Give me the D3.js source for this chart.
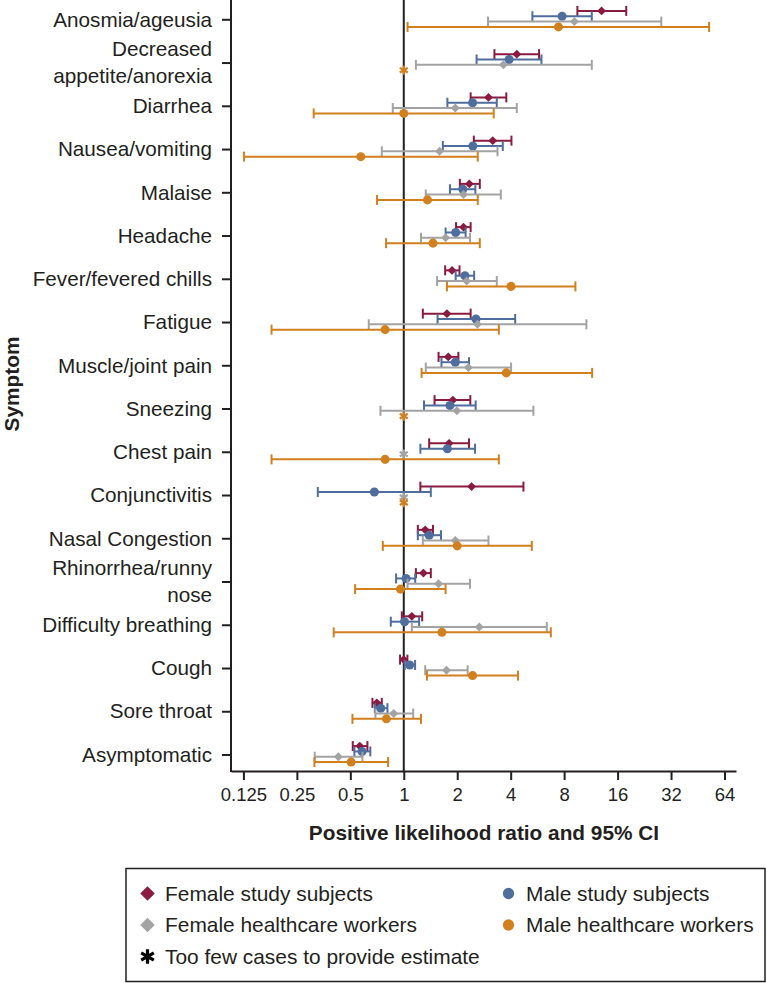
<!DOCTYPE html>
<html>
<head>
<meta charset="utf-8">
<script src="https://cdn.jsdelivr.net/npm/d3@7"></script>
<style>
  html, body { margin: 0; padding: 0; background: #fff; }
  svg { display: block; font-family: "Liberation Sans", Arial, Helvetica, sans-serif; }
</style>
</head>
<body>
<svg id="chart" width="767" height="983"></svg>
<script>
// ---------------- DATA ----------------
const symptoms = ["Anosmia/ageusia", "Decreased appetite/anorexia", "Diarrhea", "Nausea/vomiting", "Malaise",
  "Headache", "Fever/fevered chills", "Fatigue", "Muscle/joint pain", "Sneezing", "Chest pain",
  "Conjunctivitis", "Nasal Congestion", "Rhinorrhea/runny nose", "Difficulty breathing", "Cough",
  "Sore throat", "Asymptomatic"];
const symptomLines = [["Anosmia/ageusia"], ["Decreased", "appetite/anorexia"], ["Diarrhea"], ["Nausea/vomiting"],
  ["Malaise"], ["Headache"], ["Fever/fevered chills"], ["Fatigue"], ["Muscle/joint pain"], ["Sneezing"],
  ["Chest pain"], ["Conjunctivitis"], ["Nasal Congestion"], ["Rhinorrhea/runny", "nose"],
  ["Difficulty breathing"], ["Cough"], ["Sore throat"], ["Asymptomatic"]];

const seriesNames = ["Female study subjects", "Male study subjects", "Female healthcare workers", "Male healthcare workers"];

// Female study subjects
const fsEst = [13.0, 4.33, 3.0, 3.17, 2.34, 2.17, 1.87, 1.75, 1.78, 1.89, 1.80, 2.41, 1.32, 1.29, 1.11, 1.0, 0.705, 0.565];
const fsLo  = [9.5, 3.24, 2.38, 2.48, 2.07, 1.97, 1.71, 1.28, 1.57, 1.49, 1.39, 1.24, 1.2, 1.17, 0.975, 0.953, 0.666, 0.516];
const fsHi  = [17.9, 5.78, 3.78, 4.04, 2.68, 2.38, 2.06, 2.38, 2.03, 2.37, 2.33, 4.72, 1.46, 1.42, 1.27, 1.048, 0.752, 0.624];
// Male study subjects
const msEst = [7.79, 3.92, 2.44, 2.45, 2.15, 1.96, 2.21, 2.55, 1.95, 1.82, 1.76, 0.683, 1.39, 1.03, 1.01, 1.08, 0.742, 0.582];
const msLo  = [5.3, 2.57, 1.76, 1.66, 1.82, 1.72, 1.96, 1.55, 1.63, 1.3, 1.24, 0.328, 1.2, 0.905, 0.845, 1.013, 0.687, 0.527];
const msHi  = [11.45, 5.96, 3.34, 3.61, 2.53, 2.23, 2.49, 4.24, 2.33, 2.54, 2.52, 1.42, 1.62, 1.16, 1.22, 1.158, 0.809, 0.648];
// Female healthcare workers (null = too few cases)
const fhEst = [9.14, 3.64, 1.95, 1.59, 2.17, 1.72, 2.26, 2.6, 2.31, 1.99, null, null, 1.95, 1.57, 2.66, 1.74, 0.878, 0.428];
const fhLo  = [2.98, 1.17, 0.867, 0.752, 1.33, 1.25, 1.54, 0.635, 1.33, 0.739, null, null, 1.28, 1.05, 1.11, 1.32, 0.692, 0.315];
const fhHi  = [28.2, 11.45, 4.33, 3.37, 3.52, 2.36, 3.34, 10.68, 4.02, 5.37, null, null, 3.0, 2.36, 6.39, 2.29, 1.13, 0.585];
// Male healthcare workers (null = too few cases)
const mhEst = [7.43, null, 1.0, 0.573, 1.36, 1.46, 4.02, 0.785, 3.78, null, 0.785, null, 2.0, 0.958, 1.64, 2.44, 0.798, 0.505];
const mhLo  = [1.05, null, 0.311, 0.126, 0.707, 0.795, 1.75, 0.18, 1.26, null, 0.18, null, 0.762, 0.532, 0.403, 1.35, 0.514, 0.314];
const mhHi  = [52.4, null, 3.21, 2.61, 2.61, 2.68, 9.26, 3.43, 11.5, null, 3.43, null, 5.26, 1.72, 6.73, 4.40, 1.25, 0.816];

const xTicks = [0.125, 0.25, 0.5, 1, 2, 4, 8, 16, 32, 64];
const xTickLabels = ["0.125", "0.25", "0.5", "1", "2", "4", "8", "16", "32", "64"];
const referenceValue = 1;
const missingValue = 1;

// ---------------- STYLE ----------------
const colors = ["#8b1a41", "#4f6e9e", "#a3a3a3", "#d27f1e"];
const isDiamond = [true, false, true, false];
const textColor = "#231f20";

const series = [
  {est: fsEst, lo: fsLo, hi: fsHi},
  {est: msEst, lo: msLo, hi: msHi},
  {est: fhEst, lo: fhLo, hi: fhHi},
  {est: mhEst, lo: mhLo, hi: mhHi}
];

function markerPath(diamond, small) {
  return diamond ? d3.symbol(d3.symbolSquare, small ? 40 : 105)()
                 : d3.symbol(d3.symbolCircle, small ? 64 : 100)();
}
function markerRot(diamond) { return diamond ? " rotate(45)" : ""; }

const svg = d3.select("#chart");

const plotLeft = 231, plotRight = 736, plotTop = -2, plotBottom = 771;

const x = d3.scaleLog().base(2).domain([0.1064, 74.3]).range([plotLeft, plotRight]);
const y = d3.scalePoint().domain(symptoms).range([19.3, 754.5]);
const off = d3.scalePoint().domain(d3.range(4)).range([-8.4, 7.6]);

// x axis
const xAxis = d3.axisBottom(x).tickValues(xTicks).tickFormat((d, i) => xTickLabels[i]).tickSizeInner(9).tickSizeOuter(0).tickPadding(8);
const gx = svg.append("g").attr("transform", `translate(0,${plotBottom})`).call(xAxis);
gx.select(".domain").attr("stroke", textColor).attr("stroke-width", 2);
gx.selectAll(".tick line").attr("stroke", textColor).attr("stroke-width", 2);
gx.selectAll(".tick text").attr("fill", textColor).style("font-size", "18.5px");

// y axis
const yAxis = d3.axisLeft(y).tickSizeInner(9).tickSizeOuter(0).tickFormat("");
const gy = svg.append("g").attr("transform", `translate(${plotLeft},0)`).call(yAxis);
gy.select(".domain").remove();
gy.selectAll(".tick line").attr("stroke", textColor).attr("stroke-width", 2);
svg.append("line").attr("x1", plotLeft).attr("x2", plotLeft).attr("y1", plotTop).attr("y2", plotBottom + 1)
  .attr("stroke", textColor).attr("stroke-width", 2);

// y labels
const lineH = 27;
symptoms.forEach((s, i) => {
  const lines = symptomLines[i];
  const t = svg.append("text").attr("x", 212).attr("text-anchor", "end").attr("fill", textColor)
    .style("font-size", "20.7px");
  lines.forEach((ln, j) => {
    t.append("tspan").attr("x", 212)
      .attr("y", y(s) + (j - (lines.length - 1) / 2) * lineH)
      .attr("dy", "0.35em").text(ln);
  });
});

// reference line
svg.append("line").attr("x1", x(referenceValue)).attr("x2", x(referenceValue))
  .attr("y1", plotTop).attr("y2", plotBottom).attr("stroke", textColor).attr("stroke-width", 2);

// axis titles
svg.append("text").attr("x", (x(0.125) + x(64)) / 2).attr("y", 840).attr("text-anchor", "middle")
  .attr("fill", textColor).style("font-size", "20.8px").style("font-weight", "bold")
  .text("Positive likelihood ratio and 95% CI");
svg.append("text").attr("transform", `translate(19,${384}) rotate(-90)`).attr("text-anchor", "middle")
  .attr("fill", textColor).style("font-size", "20.8px").style("font-weight", "bold").text("Symptom");

// data marks
const capH = 10;
series.forEach((sr, k) => {
  const g = svg.append("g");
  symptoms.forEach((s, i) => {
    const cy = y(s) + off(k);
    if (sr.est[i] == null) {
      g.append("path").attr("d", d3.symbol(d3.symbolAsterisk, 60)())
        .attr("transform", `translate(${x(missingValue)},${cy})`)
        .attr("fill", "none").attr("stroke", colors[k]).attr("stroke-width", 2.2);
      return;
    }
    const x0 = x(sr.lo[i]), x1 = x(sr.hi[i]);
    g.append("line").attr("x1", x0).attr("x2", x1).attr("y1", cy).attr("y2", cy)
      .attr("stroke", colors[k]).attr("stroke-width", 2);
    [x0, x1].forEach(xx => g.append("line").attr("x1", xx).attr("x2", xx)
      .attr("y1", cy - capH / 2).attr("y2", cy + capH / 2).attr("stroke", colors[k]).attr("stroke-width", 2));
    g.append("path").attr("d", markerPath(isDiamond[k], true))
      .attr("transform", `translate(${x(sr.est[i])},${cy})` + markerRot(isDiamond[k])).attr("fill", colors[k]);
  });
});

// legend
const lg = svg.append("g");
lg.append("rect").attr("x", 126).attr("y", 868.5).attr("width", 639).attr("height", 113)
  .attr("fill", "#fff").attr("stroke", textColor).attr("stroke-width", 1.5);
const legendPos = [[147.5, 893.5], [508.5, 893.5], [147.5, 925], [508.5, 925]];
seriesNames.forEach((n, k) => {
  const [lx, ly] = legendPos[k];
  lg.append("path").attr("d", markerPath(isDiamond[k], false))
    .attr("transform", `translate(${lx},${ly})` + markerRot(isDiamond[k])).attr("fill", colors[k]);
  lg.append("text").attr("x", lx + 17.5).attr("y", ly).attr("dy", "0.35em").attr("fill", textColor)
    .style("font-size", "20.9px").text(n);
});
lg.append("path").attr("d", d3.symbol(d3.symbolAsterisk, 150)())
  .attr("transform", `translate(147.5,956.5)`).attr("fill", "none").attr("stroke", "#000").attr("stroke-width", 3.2);
lg.append("text").attr("x", 165).attr("y", 956.5).attr("dy", "0.35em").attr("fill", textColor)
  .style("font-size", "20.9px").text("Too few cases to provide estimate");
</script>
</body>
</html>
